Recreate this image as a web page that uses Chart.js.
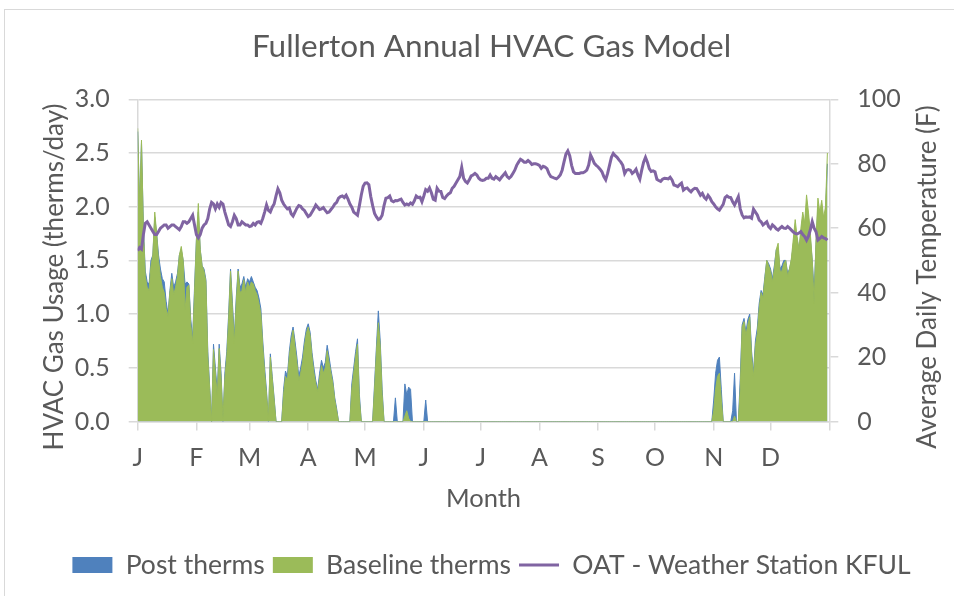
<!DOCTYPE html>
<html>
<head>
<meta charset="utf-8">
<title>Fullerton Annual HVAC Gas Model</title>
<script src="https://cdn.jsdelivr.net/npm/chart.js"></script>
<style>
  html, body { margin: 0; padding: 0; background: #fff; }
  #wrap { position: relative; width: 954px; height: 596px; overflow: hidden; }
  #frame { position: absolute; left: 4px; top: 9px; width: 980px; height: 620px; border: 1px solid #d9d9d9; pointer-events: none; }
  canvas { position: absolute; left: 0; top: 0; }
</style>
</head>
<body>
<div id="wrap">
  <canvas id="gasChart" width="954" height="596"></canvas>
  <div id="frame"></div>
</div>
<script>
// month tick labels and the day each month starts on
const monthLabels = ['J', 'F', 'M', 'A', 'M', 'J', 'J', 'A', 'S', 'O', 'N', 'D'];
const monthStartDays = [0, 31, 59, 90, 120, 151, 181, 212, 243, 273, 304, 334, 365];

// average daily outside air temperature (F), one value per day
const oatF = [
  // Jan
  53, 54, 53.5, 58, 61.5, 62, 61, 60, 59, 58, 58, 59, 60, 60.5, 61, 61, 60, 60.5, 61, 61, 60.5, 60, 59.5, 60.5, 62, 62, 61.5, 62, 63, 64, 61,
  // Feb
  58, 57, 58, 60, 61, 61.5, 63, 66, 68, 67.5, 66, 67.5, 66.5, 68, 67.5, 65, 63, 61, 60.5, 62, 64, 63, 61, 61, 62, 61.5, 61, 61,
  // Mar
  60.5, 60.7, 61.5, 61, 61.8, 62, 61.5, 63, 65, 67.2, 65.5, 65, 66.5, 67.5, 70, 72.2, 71, 68.7, 67.5, 66.7, 66, 66.3, 64.5, 63.8, 65, 66.2, 67, 66.8, 66, 65.5, 64.5,
  // Apr
  63.6, 64, 65, 66, 67.2, 66.5, 65.8, 66, 66.4, 65.5, 64.8, 65, 65.8, 66.5, 67.5, 68, 69.3, 69.8, 70, 69.5, 70.2, 69, 67.5, 66.5, 65, 64.5, 64, 67, 70.3, 73,
  // May
  74, 74.1, 73.5, 69.8, 67, 64.6, 63.5, 62.7, 63, 64, 67, 69.3, 69.5, 70, 68.5, 68.2, 68.6, 68.5, 68.8, 69, 68, 67.2, 67.5, 67.2, 67.8, 67.4, 68.5, 70, 69.5, 69.6, 68.2,
  // Jun
  70, 72, 71.5, 72.5, 71, 69, 68.7, 72.4, 71.5, 71.4, 69.5, 69.2, 70, 70.6, 71, 72.4, 73, 74, 75, 76, 78.9, 75.5, 74.5, 74, 75, 76.2, 76.5, 77, 76.5, 75.5,
  // Jul
  75, 74.8, 75, 75.5, 75.5, 76.5, 75.5, 75.2, 76, 75.5, 75, 75.8, 76.5, 77.2, 76, 75.5, 76, 77, 78, 79.5, 80.5, 81.4, 81, 80.5, 80.5, 81, 80.5, 79.8, 80, 80, 79.8,
  // Aug
  79.5, 78.6, 79.2, 79, 78.5, 77, 76, 75.8, 75.5, 75.3, 75.8, 76.5, 78, 80.6, 83, 84, 82.5, 79.5, 77.5, 77, 77, 77, 77.2, 77.2, 77.5, 78, 79.6, 82.7, 81.5, 80.1, 79.5,
  // Sep
  79, 78.3, 77.5, 76, 75, 77, 79.5, 82, 83.2, 82.5, 82, 81.2, 80.5, 79.5, 77, 78, 78.2, 78, 77, 77.5, 78.3, 76.5, 75.2, 78, 80.5, 82, 80.5, 78.5, 77.6, 77.8,
  // Oct
  77.5, 75.2, 74.8, 74.5, 75.2, 75.5, 75.4, 75.3, 75.8, 75, 73.4, 73.2, 72.9, 73.5, 74, 71.8, 72.3, 72.5, 71.8, 71.3, 72, 72.4, 72.3, 71.3, 70.2, 70.8, 69.6, 69, 70.2, 69.4, 68.2,
  // Nov
  67.5, 66.6, 66, 65.6, 66.5, 67.4, 69.5, 70, 69.6, 69.5, 68.2, 67.2, 68.5, 69.8, 66, 64.1, 63.2, 63.5, 63.4, 63.5, 63.1, 65.9, 65, 64.1, 62.5, 62, 61, 61.5, 62, 60.5,
  // Dec
  59.9, 61, 60.5, 59.8, 59.4, 60, 60.5, 60, 59.9, 60.5, 60, 59.4, 58.8, 58.4, 58.2, 58.5, 58.9, 58, 57.4, 56.3, 57.5, 59.5, 62, 60, 58.9, 56.3, 56.8, 57.4, 57, 56.8, 56.3
];

// modelled baseline gas use (therms/day)
const baselineTherms = [
  // Jan
  2.73, 2.0, 2.62, 1.8, 1.35, 1.25, 1.22, 1.45, 1.55, 1.95, 1.75, 1.5, 1.35, 1.25, 1.2, 1.05, 0.98, 1.2, 1.33, 1.18, 1.25, 1.35, 1.55, 1.63, 1.5, 1.04, 1.25, 1.27, 0.9, 0.73, 1.2,
  // Feb
  1.7, 2.03, 1.6, 1.45, 1.4, 1.3, 0.6, 0.3, 0, 0.67, 0.45, 0.23, 0.68, 0.4, 0.03, 0.4, 0.6, 0.95, 1.4, 1.05, 0.73, 1.1, 1.4, 1.2, 1.22, 1.32, 1.2, 1.3,
  // Mar
  1.25, 1.3, 1.28, 1.22, 1.18, 1.1, 1.0, 0.7, 0.45, 0.25, 0.02, 0.6, 0.4, 0.2, 0, 0, 0, 0, 0.25, 0.42, 0.38, 0.6, 0.75, 0.85, 0.7, 0.55, 0.38, 0.45, 0.55, 0.7, 0.82,
  // Apr
  0.88, 0.8, 0.6, 0.45, 0.35, 0.28, 0.4, 0.52, 0.45, 0.5, 0.66, 0.55, 0.45, 0.35, 0.2, 0.1, 0, 0, 0, 0, 0, 0, 0, 0.3, 0.45, 0.6, 0.72, 0.2, 0, 0,
  // May
  0, 0, 0, 0, 0, 0.3, 0.65, 0.92, 0.7, 0.25, 0, 0, 0, 0, 0, 0, 0, 0, 0, 0, 0, 0.05, 0.1, 0.03, 0, 0, 0, 0, 0, 0, 0,
  // Jun
  0, 0, 0, 0, 0, 0, 0, 0, 0, 0, 0, 0, 0, 0, 0, 0, 0, 0, 0, 0, 0, 0, 0, 0, 0, 0, 0, 0, 0, 0,
  // Jul
  0, 0, 0, 0, 0, 0, 0, 0, 0, 0, 0, 0, 0, 0, 0, 0, 0, 0, 0, 0, 0, 0, 0, 0, 0, 0, 0, 0, 0, 0, 0,
  // Aug
  0, 0, 0, 0, 0, 0, 0, 0, 0, 0, 0, 0, 0, 0, 0, 0, 0, 0, 0, 0, 0, 0, 0, 0, 0, 0, 0, 0, 0, 0, 0,
  // Sep
  0, 0, 0, 0, 0, 0, 0, 0, 0, 0, 0, 0, 0, 0, 0, 0, 0, 0, 0, 0, 0, 0, 0, 0, 0, 0, 0, 0, 0, 0,
  // Oct
  0, 0, 0, 0, 0, 0, 0, 0, 0, 0, 0, 0, 0, 0, 0, 0, 0, 0, 0, 0, 0, 0, 0, 0, 0, 0, 0, 0, 0, 0, 0,
  // Nov
  0.1, 0.3, 0.42, 0.45, 0.2, 0, 0, 0, 0, 0, 0, 0.05, 0, 0, 0.3, 0.88, 0.93, 0.8, 0.9, 0.97, 0.6, 0.42, 0.7, 0.82, 1.05, 1.2, 1.15, 1.33, 1.5, 1.45,
  // Dec
  1.4, 1.3, 1.42, 1.6, 1.66, 1.4, 1.4, 1.47, 1.5, 1.35, 1.42, 1.52, 1.7, 1.88, 1.72, 1.6, 1.8, 1.95, 1.85, 2.11, 1.95, 1.75, 1.5, 1.1, 1.7, 2.08, 1.95, 2.06, 1.9, 2.0, 2.5
];

// measured post-retrofit gas use (therms/day)
const postTherms = [
  // Jan
  2.7, 2.0, 2.6, 1.82, 1.4, 1.3, 1.28, 1.5, 1.55, 1.9, 1.75, 1.55, 1.42, 1.33, 1.3, 1.12, 1.0, 1.22, 1.38, 1.25, 1.3, 1.38, 1.55, 1.6, 1.5, 1.28, 1.3, 1.28, 0.95, 0.78, 1.25,
  // Feb
  1.7, 1.95, 1.6, 1.45, 1.42, 1.32, 0.65, 0.32, 0, 0.72, 0.5, 0.28, 0.72, 0.45, 0, 0.45, 0.65, 1.0, 1.42, 1.1, 0.78, 1.15, 1.42, 1.25, 1.28, 1.35, 1.25, 1.33,
  // Mar
  1.3, 1.35, 1.3, 1.25, 1.22, 1.15, 1.05, 0.75, 0.5, 0.28, 0, 0.63, 0.42, 0.22, 0, 0, 0, 0, 0.3, 0.47, 0.42, 0.65, 0.8, 0.88, 0.75, 0.6, 0.42, 0.5, 0.6, 0.75, 0.86,
  // Apr
  0.91, 0.83, 0.64, 0.5, 0.38, 0.3, 0.45, 0.57, 0.5, 0.55, 0.71, 0.6, 0.48, 0.38, 0.22, 0.12, 0, 0, 0, 0, 0, 0, 0, 0.35, 0.5, 0.65, 0.77, 0.25, 0, 0,
  // May
  0, 0, 0, 0, 0, 0.35, 0.7, 1.03, 0.75, 0.3, 0, 0, 0, 0, 0, 0, 0.22, 0, 0, 0, 0, 0.35, 0.25, 0.32, 0.3, 0, 0, 0, 0, 0, 0,
  // Jun
  0, 0.2, 0, 0, 0, 0, 0, 0, 0, 0, 0, 0, 0, 0, 0, 0, 0, 0, 0, 0, 0, 0, 0, 0, 0, 0, 0, 0, 0, 0,
  // Jul
  0, 0, 0, 0, 0, 0, 0, 0, 0, 0, 0, 0, 0, 0, 0, 0, 0, 0, 0, 0, 0, 0, 0, 0, 0, 0, 0, 0, 0, 0, 0,
  // Aug
  0, 0, 0, 0, 0, 0, 0, 0, 0, 0, 0, 0, 0, 0, 0, 0, 0, 0, 0, 0, 0, 0, 0, 0, 0, 0, 0, 0, 0, 0, 0,
  // Sep
  0, 0, 0, 0, 0, 0, 0, 0, 0, 0, 0, 0, 0, 0, 0, 0, 0, 0, 0, 0, 0, 0, 0, 0, 0, 0, 0, 0, 0, 0,
  // Oct
  0, 0, 0, 0, 0, 0, 0, 0, 0, 0, 0, 0, 0, 0, 0, 0, 0, 0, 0, 0, 0, 0, 0, 0, 0, 0, 0, 0, 0, 0, 0,
  // Nov
  0.2, 0.45, 0.57, 0.6, 0.3, 0, 0, 0, 0, 0, 0.1, 0.45, 0, 0, 0.4, 0.9, 0.96, 0.83, 0.95, 1.0, 0.65, 0.45, 0.75, 0.87, 1.1, 1.22, 1.18, 1.35, 1.5, 1.47,
  // Dec
  1.42, 1.33, 1.45, 1.6, 1.6, 1.42, 1.45, 1.5, 1.5, 1.38, 1.42, 1.5, 1.65, 1.8, 1.7, 1.6, 1.75, 1.9, 1.8, 2.0, 1.9, 1.7, 1.5, 1.2, 1.65, 2.0, 1.9, 2.0, 1.85, 1.95, 2.4
];

const FONT = 'Lato, "Open Sans", sans-serif';
const TEXT = '#595959';
const GRID = '#d9d9d9';
const BLUE = '#4F81BD';
const GREEN = '#9BBB59';
const PURPLE = '#8064A2';

const LEGEND_PAD_BOTTOM = 7.75;

// Chart.js wants {x, y} points for a linear x axis
const toPoints = arr => arr.map((v, i) => ({ x: i, y: v }));

// both vertical axis titles read bottom-to-top, so draw them by hand
const axisTitles = {
  id: 'axisTitles',
  afterDraw(chart) {
    const { ctx, chartArea } = chart;
    const midY = 277;
    ctx.save();
    ctx.font = '26px ' + FONT;
    ctx.fillStyle = TEXT;
    ctx.textAlign = 'center';
    ctx.textBaseline = 'middle';
    [[chartArea.left - 83, 'HVAC Gas Usage (therms/day)'],
     [chartArea.right + 98, 'Average Daily Temperature (F)']].forEach(([x, txt]) => {
      ctx.save();
      ctx.translate(x, midY);
      ctx.rotate(-Math.PI / 2);
      ctx.fillText(txt, 0, 0);
      ctx.restore();
    });
    ctx.restore();
  }
};

const ctx = document.getElementById('gasChart').getContext('2d');

new Chart(ctx, {
  type: 'line',
  data: {
    datasets: [
      {
        label: 'Post therms',
        data: toPoints(postTherms),
        yAxisID: 'y',
        order: 3,
        fill: 'origin',
        backgroundColor: BLUE,
        borderColor: BLUE,
        borderWidth: 1,
        pointRadius: 0,
        tension: 0
      },
      {
        label: 'Baseline therms',
        data: toPoints(baselineTherms),
        yAxisID: 'y',
        order: 2,
        fill: 'origin',
        backgroundColor: GREEN,
        borderColor: GREEN,
        borderWidth: 1,
        pointRadius: 0,
        tension: 0
      },
      {
        label: 'OAT - Weather Station KFUL',
        data: toPoints(oatF),
        yAxisID: 'y2',
        order: 1,
        fill: false,
        borderColor: PURPLE,
        backgroundColor: PURPLE,
        borderWidth: 3,
        pointRadius: 0,
        tension: 0
      }
    ]
  },
  options: {
    responsive: false,
    animation: false,
    devicePixelRatio: 1,
    events: [],
    layout: { padding: { left: 29, right: 0, top: 0, bottom: LEGEND_PAD_BOTTOM } },
    plugins: {
      title: {
        display: true,
        text: 'Fullerton Annual HVAC Gas Model',
        color: TEXT,
        font: { family: FONT, size: 31.5, weight: 'normal' },
        padding: { top: 28.1, bottom: 33.4 }
      },
      legend: {
        position: 'bottom',
        labels: {
          usePointStyle: true,
          pointStyleWidth: 40,
          boxHeight: 16,
          padding: 8,
          color: TEXT,
          font: { family: FONT, size: 26.5 },
          sort: (a, b) => a.datasetIndex - b.datasetIndex,
          generateLabels(chart) {
            const items = Chart.defaults.plugins.legend.labels.generateLabels(chart);
            items.forEach(it => {
              const ds = chart.data.datasets[it.datasetIndex];
              if (ds.fill) {
                it.pointStyle = 'rect';
                it.lineWidth = 0;
                it.fillStyle = ds.backgroundColor;
              } else {
                it.pointStyle = 'line';
                it.lineWidth = 3;
                it.strokeStyle = ds.borderColor;
              }
            });
            return items;
          }
        }
      },
      tooltip: { enabled: false }
    },
    scales: {
      x: {
        type: 'linear',
        min: 0,
        max: 365,
        afterBuildTicks: s => { s.ticks = monthStartDays.map(v => ({ value: v })); },
        afterFit: s => { s.height = 596 - LEGEND_PAD_BOTTOM - s.chart.legend.height - 421.5; },
        ticks: {
          autoSkip: false,
          maxRotation: 0,
          padding: 12,
          color: TEXT,
          font: { family: FONT, size: 25 },
          callback: (v, i) => monthLabels[i] || ''
        },
        grid: { drawOnChartArea: false, drawTicks: true, tickLength: 9, color: GRID, lineWidth: 1.5 },
        border: { color: GRID, width: 1.5 },
        title: {
          display: true,
          text: 'Month',
          color: TEXT,
          font: { family: FONT, size: 25.5 },
          padding: { top: 0, bottom: 30 }
        }
      },
      y: {
        position: 'left',
        min: 0,
        max: 3,
        afterFit: s => { s.width = 137.7 - 29; },
        ticks: {
          stepSize: 0.5,
          padding: 19,
          color: TEXT,
          font: { family: FONT, size: 25 },
          callback: v => v.toFixed(1)
        },
        grid: { color: GRID, lineWidth: 1.5, tickLength: 9 },
        border: { color: GRID, width: 1.5 }
      },
      y2: {
        position: 'right',
        min: 0,
        max: 100,
        afterFit: s => { s.width = 954 - 829.3; },
        ticks: {
          stepSize: 20,
          padding: 19,
          color: TEXT,
          font: { family: FONT, size: 25 }
        },
        grid: { drawOnChartArea: false, drawTicks: true, tickLength: 9, color: GRID, lineWidth: 1.5 },
        border: { color: GRID, width: 1.5 }
      }
    }
  },
  plugins: [axisTitles]
});
</script>
</body>
</html>
